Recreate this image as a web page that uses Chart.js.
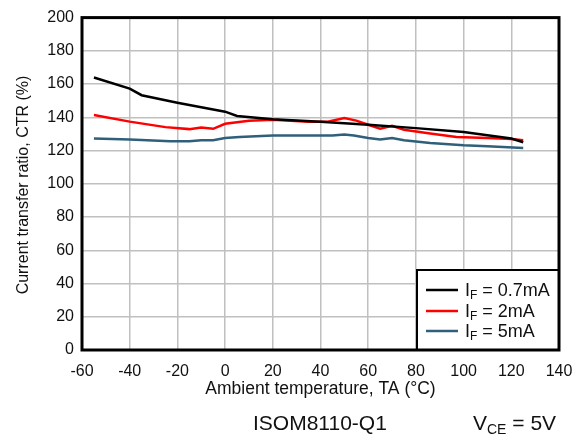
<!DOCTYPE html>
<html>
<head>
<meta charset="utf-8">
<script src="https://cdn.jsdelivr.net/npm/chart.js"></script>
<style>
  html, body { margin: 0; padding: 0; background: #fff; }
  #wrap { width: 585px; height: 438px; }
</style>
</head>
<body>
<div id="wrap"><canvas id="ctr"></canvas></div>
<script>
// values
const tempLow = [-55, -40, -35, -20, -10, 0, 5, 20, 40, 60, 80, 100, 110, 120, 125];
const ctrLow = [164, 157.3, 153.3, 148.8, 146, 143.4, 140.8, 138.9, 137.4, 135.5, 133.5, 131.2, 129.2, 127.2, 125];

const tempMid = [-55, -40, -25, -15, -10, -5, 0, 10, 20, 35, 43, 50, 55, 60, 65, 70, 75, 86, 97, 110, 120, 125];
const ctrMid = [141.4, 137.4, 134.1, 132.9, 133.9, 133.1, 136.1, 138, 138.5, 137.4, 137.4, 139.5, 138, 135.5, 133.1, 134.9, 132.5, 130.2, 128.2, 127.6, 127, 126.2];

const tempHigh = [-55, -40, -23, -15, -10, -5, 0, 6, 20, 40, 45, 50, 54, 60, 65, 70, 75, 86, 100, 110, 125];
const ctrHigh = [127.2, 126.6, 125.6, 125.6, 126.2, 126.2, 127.6, 128.2, 129, 129, 129, 129.6, 129, 127.6, 126.6, 127.6, 126.2, 124.6, 123.2, 122.6, 121.6];

const seriesNames = ['0.7mA', '2mA', '5mA'];
const seriesColors = ['#000000', '#ff0000', '#2f5f7a'];

const xTicks = [-60, -40, -20, 0, 20, 40, 60, 80, 100, 120, 140];
const yTicks = [0, 20, 40, 60, 80, 100, 120, 140, 160, 180, 200];

const FONT = "'Liberation Sans', Arial, sans-serif";

function pts(xs, ys) {
    return xs.map((x, i) => ({ x: x, y: ys[i] }));
}

// frame, legend box, y title and footer text
const decor = {
    id: 'decor',
    afterDatasetsDraw(chart) {
        const ctx = chart.ctx;
        const a = chart.chartArea;
        ctx.save();

        // legend box in lower right corner
        const lx = 417, ly = 270;
        ctx.fillStyle = '#fff';
        ctx.fillRect(lx, ly, a.right - lx, a.bottom - ly);
        ctx.strokeStyle = '#000';
        ctx.lineWidth = 2;
        ctx.strokeRect(lx, ly, a.right - lx, a.bottom - ly);

        const rows = [290, 311, 331];
        rows.forEach((y, i) => {
            ctx.strokeStyle = seriesColors[i];
            ctx.lineWidth = 2.5;
            ctx.beginPath();
            ctx.moveTo(426, y);
            ctx.lineTo(458, y);
            ctx.stroke();

            ctx.fillStyle = '#111';
            ctx.textBaseline = 'alphabetic';
            ctx.font = '18px ' + FONT;
            ctx.fillText('I', 465, y + 6);
            let x = 465 + ctx.measureText('I').width;
            ctx.font = '12px ' + FONT;
            ctx.fillText('F', x, y + 9);
            x += ctx.measureText('F').width;
            ctx.font = '18px ' + FONT;
            ctx.fillText(' = ' + seriesNames[i], x, y + 6);
        });

        // plot frame
        ctx.strokeStyle = '#000';
        ctx.lineWidth = 3;
        ctx.strokeRect(a.left, a.top, a.right - a.left, a.bottom - a.top);

        // y axis title
        ctx.save();
        ctx.translate(24, 185);
        ctx.rotate(-Math.PI / 2);
        ctx.textAlign = 'center';
        ctx.textBaseline = 'middle';
        ctx.font = '16px ' + FONT;
        ctx.fillText('Current transfer ratio, CTR (%)', 0, 0);
        ctx.restore();

        // footer
        ctx.fillStyle = '#111';
        ctx.textBaseline = 'alphabetic';
        ctx.font = '21px ' + FONT;
        ctx.fillText('ISOM8110-Q1', 253, 430);
        ctx.fillText('V', 473, 430);
        let vx = 473 + ctx.measureText('V').width;
        ctx.font = '14px ' + FONT;
        ctx.fillText('CE', vx, 434);
        vx += ctx.measureText('CE').width;
        ctx.font = '21px ' + FONT;
        ctx.fillText(' = 5V', vx, 430);

        ctx.restore();
    }
};

Chart.defaults.font.family = FONT;
Chart.defaults.color = '#111';

new Chart(document.getElementById('ctr'), {
    type: 'line',
    data: {
        datasets: [
            { data: pts(tempLow, ctrLow), borderColor: seriesColors[0] },
            { data: pts(tempMid, ctrMid), borderColor: seriesColors[1] },
            { data: pts(tempHigh, ctrHigh), borderColor: seriesColors[2] }
        ].map(d => Object.assign(d, { borderWidth: 2.5, pointRadius: 0, tension: 0, fill: false }))
    },
    options: {
        responsive: true,
        maintainAspectRatio: false,
        animation: false,
        layout: { padding: { left: 0, top: 13, right: 26, bottom: 38 } },
        plugins: { legend: { display: false }, tooltip: { enabled: false } },
        scales: {
            x: {
                type: 'linear',
                min: -60, max: 140,
                afterBuildTicks: s => { s.ticks = xTicks.map(v => ({ value: v })); },
                afterFit: s => { s.height = 50; },
                grid: { color: '#c0c0c0', lineWidth: 1.5, drawTicks: false },
                border: { display: false },
                ticks: { padding: 12, font: { size: 16 }, maxRotation: 0 },
                title: {
                    display: true,
                    text: 'Ambient temperature, TA (°C)',
                    font: { size: 17.5 },
                    padding: { top: 0, bottom: 0 }
                }
            },
            y: {
                min: 0, max: 200,
                afterBuildTicks: s => { s.ticks = yTicks.map(v => ({ value: v })); },
                afterFit: s => { s.width = 82; },
                grid: { color: '#c0c0c0', lineWidth: 1.5, drawTicks: false },
                border: { display: false },
                ticks: { padding: 8, font: { size: 16 } }
            }
        }
    },
    plugins: [decor]
});
</script>
</body>
</html>
